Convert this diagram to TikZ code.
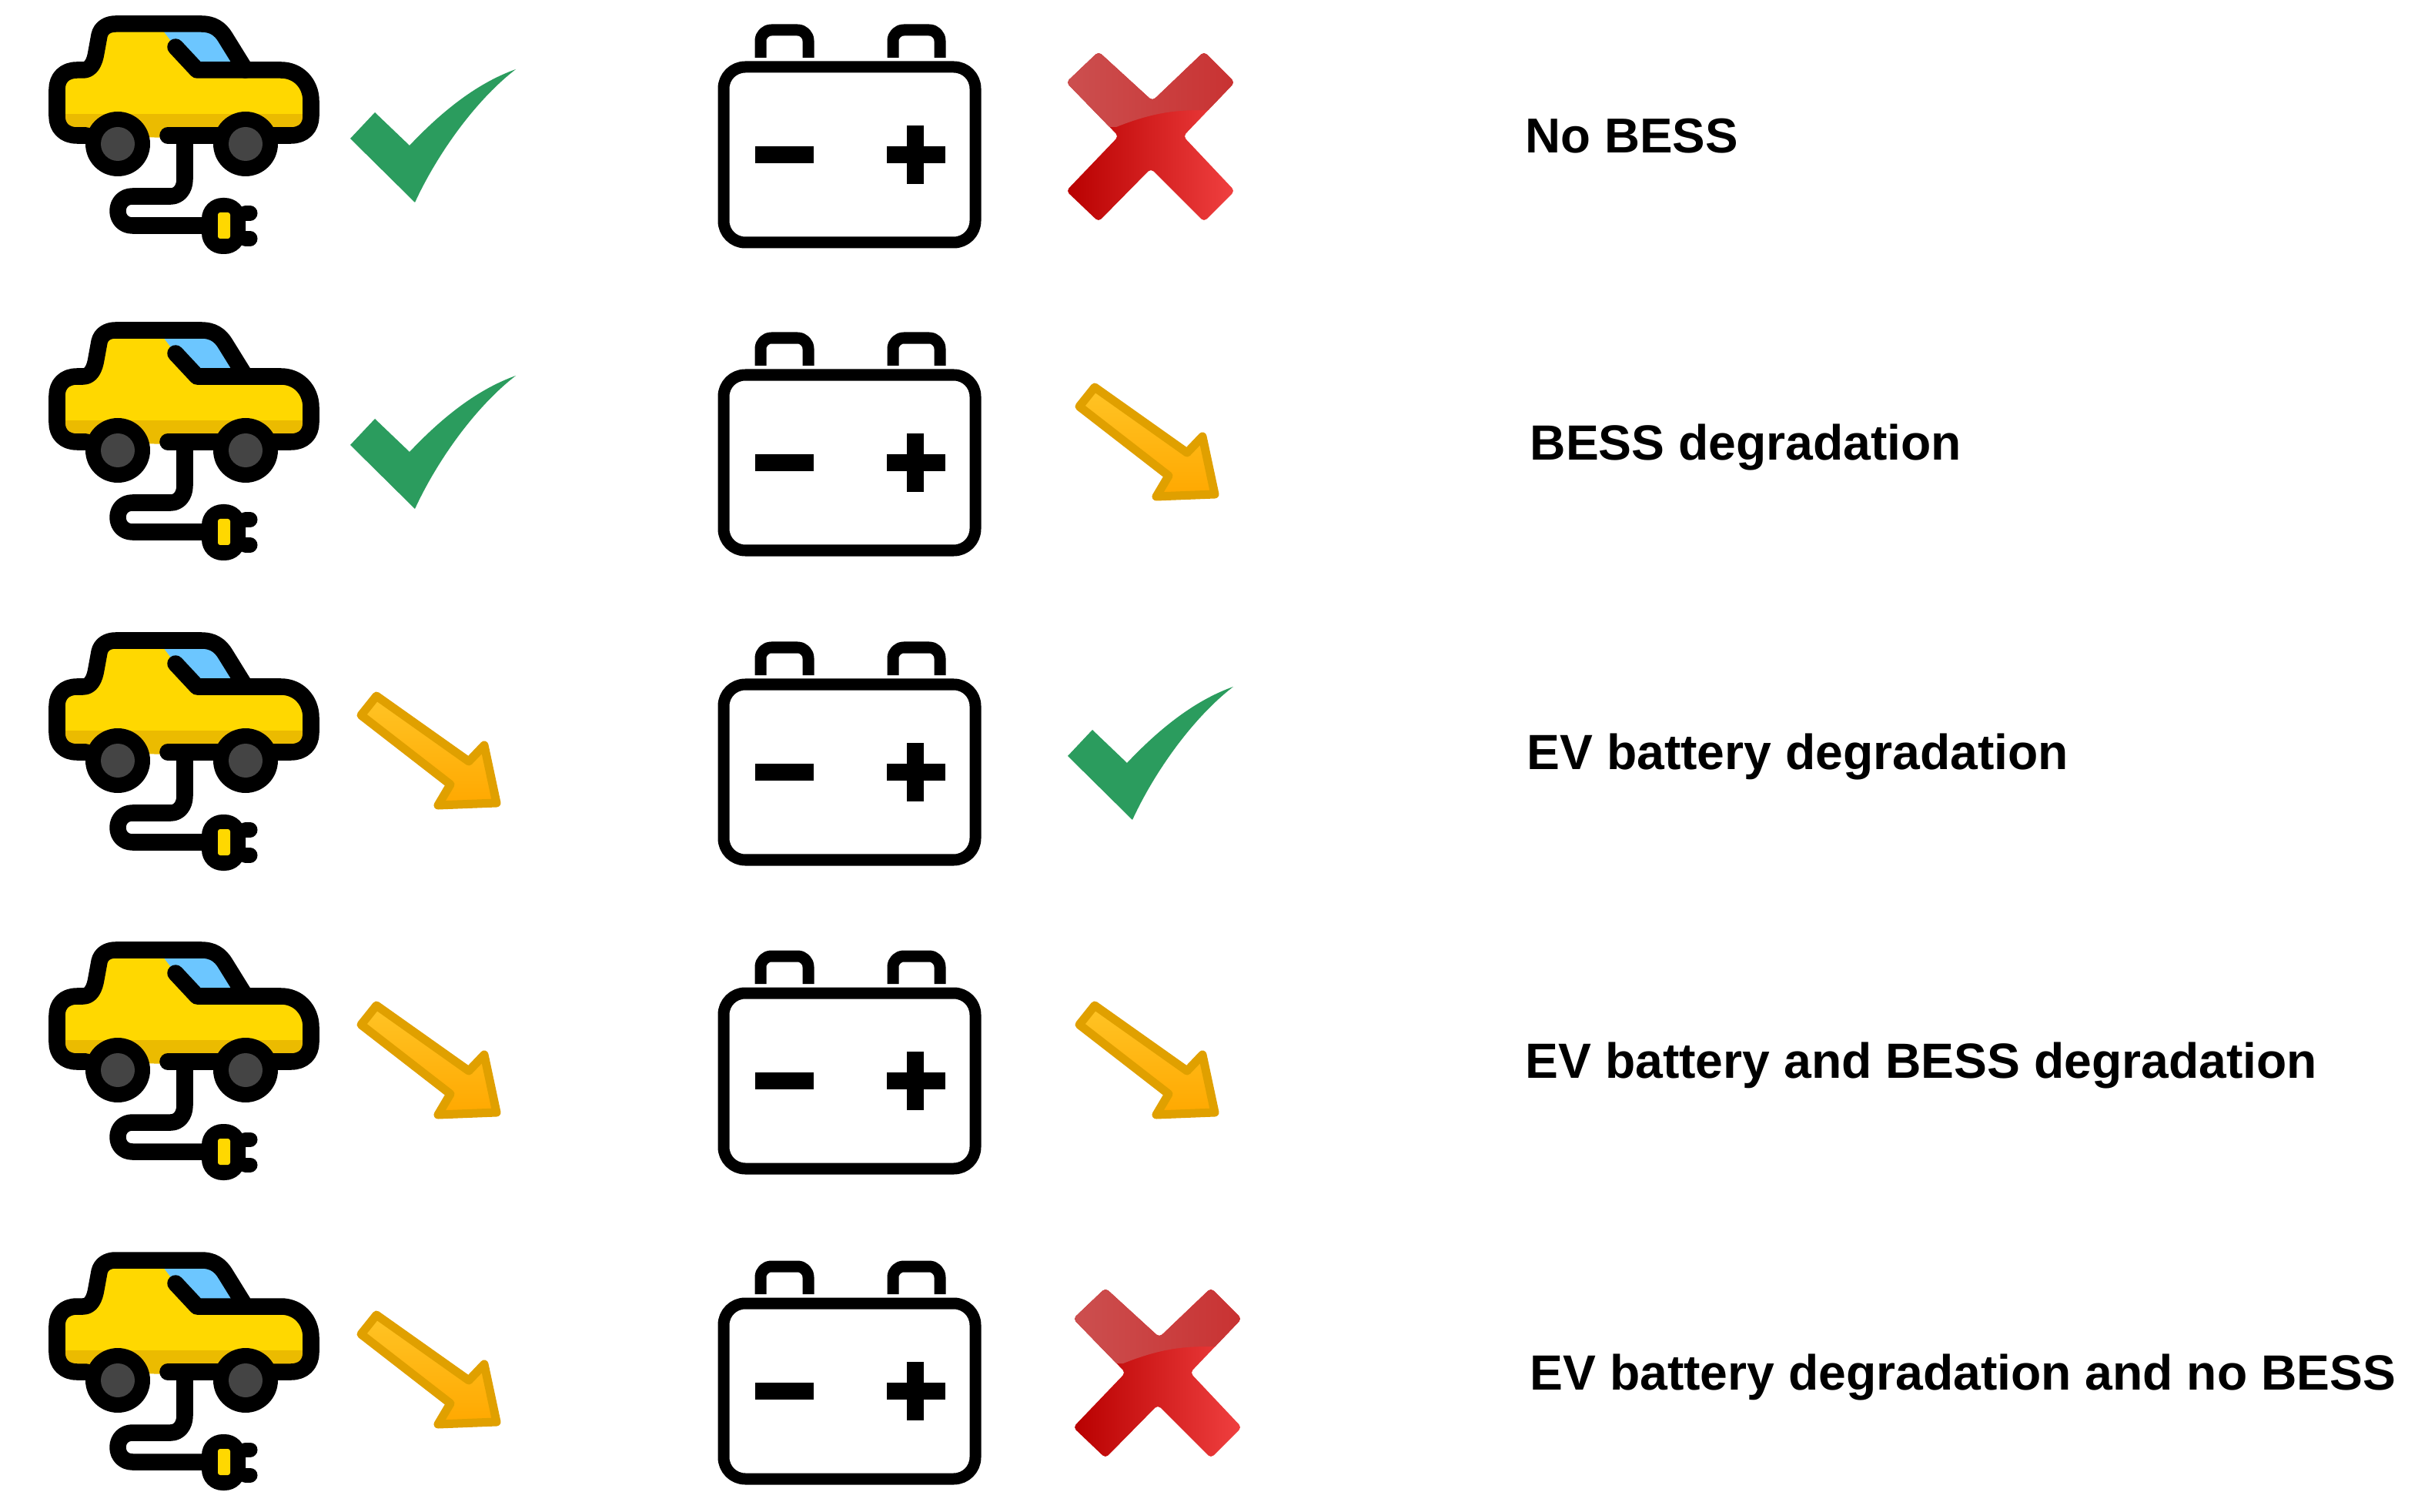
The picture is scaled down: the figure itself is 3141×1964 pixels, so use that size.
\documentclass[tikz,border=0pt]{standalone}
\usepackage{fontspec}
\setmainfont{Liberation Sans}
\definecolor{carY}{HTML}{FFD800}
\definecolor{carB}{HTML}{EBBB00}
\definecolor{glass}{HTML}{6CC6FF}
\definecolor{tyre}{HTML}{444444}
\definecolor{okG}{HTML}{2B9C5E}
\definecolor{arrS}{HTML}{E0A000}
\definecolor{arrT}{HTML}{FFC425}
\definecolor{arrB}{HTML}{FFA800}
\definecolor{xL}{HTML}{B80000}
\definecolor{xR}{HTML}{F04040}
\definecolor{xGL}{HTML}{CC5050}
\definecolor{xGR}{HTML}{C83030}
\newcommand{\carbody}{(112,176) -- (100,176) .. controls (84,176) and (74,166) .. (74,151) -- (74,116) .. controls (74,101) and (84,91) .. (100,91) -- (108,91) .. controls (118,91) and (123,81) .. (125,68) -- (129,46) .. controls (131,36) and (140,31) .. (150,31) -- (262,31) .. controls (276,31) and (286,37) .. (293,49) -- (319,91) -- (365,91) .. controls (388,91) and (404,109) .. (404,131) -- (404,151) .. controls (404,166) and (394,176) .. (378,176)}
\newcommand{\crosspath}{(1427,67) -- (1385,107) -- (1453,177) -- (1385,248) -- (1427,288) -- (1495,219) -- (1564,288) -- (1604,248) -- (1537,177) -- (1604,107) -- (1564,67) -- (1497,131) -- cycle}
\tikzset{
  x=0.01cm,y=-0.01cm,
  carline/.style={line width=0.215cm,line cap=round,line join=round,draw=black},
  batline/.style={line width=0.15cm,line join=round,draw=black},
  label/.style={font=\fontsize{18.1pt}{20pt}\selectfont\bfseries,anchor=base west,inner sep=0pt,text=black},
  longlabel/.style={label,font=\fontsize{18.27pt}{20pt}\selectfont\bfseries},
  carpic/.pic={
    \begin{scope}
      \clip \carbody -- (350,176) -- (218,179) -- (112,176) -- cycle;
      \fill[carY] (60,20) rectangle (420,148);
      \fill[carB] (60,148) rectangle (420,190);
      \fill[glass] (205,31) -- (300,31) -- (319,91) -- (256,91) -- (228,61) -- cycle;
    \end{scope}
    \draw[carline] \carbody -- (350,176);
    \draw[carline] (228,61) -- (256,91) -- (319,91);
    \draw[carline] (218,176) -- (285,176);
    \fill[black] (153,187) circle[radius=42];
    \fill[black] (319,187) circle[radius=42];
    \fill[tyre] (153,187) circle[radius=22];
    \fill[tyre] (319,187) circle[radius=22];
    \draw[carline] (240,176) -- (240,233) .. controls (240,246) and (232,255) .. (222,255) -- (172,255) .. controls (161,255) and (153,263) .. (153,274) .. controls (153,285) and (161,293) .. (172,293) -- (277,293);
    \fill[black,rounded corners=0.27cm] (262,257) rectangle (319,330);
    \draw[black,line width=0.19cm,line cap=round] (319,277) -- (325,277);
    \draw[black,line width=0.19cm,line cap=round] (319,310) -- (325,310);
    \fill[carY,rounded corners=0.03cm] (283,276) rectangle (299,310);
  },
  batpic/.pic={
    \draw[batline,rounded corners=0.28cm] (940,87) rectangle (1267,315);
    \draw[batline,rounded corners=0.14cm] (988,75) -- (988,39) -- (1050,39) -- (1050,75);
    \draw[batline,rounded corners=0.14cm] (1160,75) -- (1160,39) -- (1221,39) -- (1221,75);
    \fill[black] (981,190) rectangle (1057,212);
    \fill[black] (1152,190) rectangle (1228,212);
    \fill[black] (1178,163) rectangle (1200,239);
  },
  okpic/.pic={
    \fill[okG] (455,180) -- (487,146) -- (532,189) .. controls (583,135) and (628,105) .. (670,90) .. controls (618,130) and (568,200) .. (539,263) -- cycle;
  },
  crosspic/.pic={
    \shade[rounded corners=0.05cm,left color=xL,right color=xR] \crosspath;
    \begin{scope}
      \clip[rounded corners=0.05cm] \crosspath;
      \shade[left color=xGL,right color=xGR] (1380,60) -- (1620,60) -- (1620,143) -- (1564,143) .. controls (1530,143) and (1500,145) .. (1450,165) -- (1380,165) -- cycle;
    \end{scope}
  },
  downpic/.pic={
    \shadedraw[draw=arrS,line width=0.11cm,line join=round,top color=arrT,bottom color=arrB]
      (1422,503) -- (1402,528) -- (1518,618) -- (1502,645) -- (1578,642) -- (1562,567) -- (1542,588) -- cycle;
  }
}
\begin{document}
\begin{tikzpicture}
\useasboundingbox (0,0) rectangle (3141,1964);
\fill[white] (0,0) rectangle (3141,1964);
% row 1
\pic at (0,0) {carpic};
\pic at (0,0) {okpic};
\pic at (0,0) {batpic};
\pic at (0,0) {crosspic};
\node[label] (t1) at (1981,199) {No BESS};
% row 2
\pic at (0,398) {carpic};
\pic at (0,398) {okpic};
\pic at (0,400) {batpic};
\pic at (0,0) {downpic};
\node[longlabel] (t2) at (1987,597) {BESS degradation};
% row 3
\pic at (0,801) {carpic};
\pic at (-933,401) {downpic};
\pic at (0,802) {batpic};
\pic at (932,802) {okpic};
\node[longlabel] (t3) at (1983,999) {EV battery degradation};
% row 4
\pic at (0,1203) {carpic};
\pic at (-933,803) {downpic};
\pic at (0,1203) {batpic};
\pic at (0,803) {downpic};
\node[longlabel] (t4) at (1981,1400) {EV battery and BESS degradation};
% row 5
\pic at (0,1606) {carpic};
\pic at (-933,1205) {downpic};
\pic at (0,1606) {batpic};
\pic at (9,1606) {crosspic};
\node[longlabel] (t5) at (1987,1805) {EV battery degradation and no BESS};
\end{tikzpicture}
\end{document}
